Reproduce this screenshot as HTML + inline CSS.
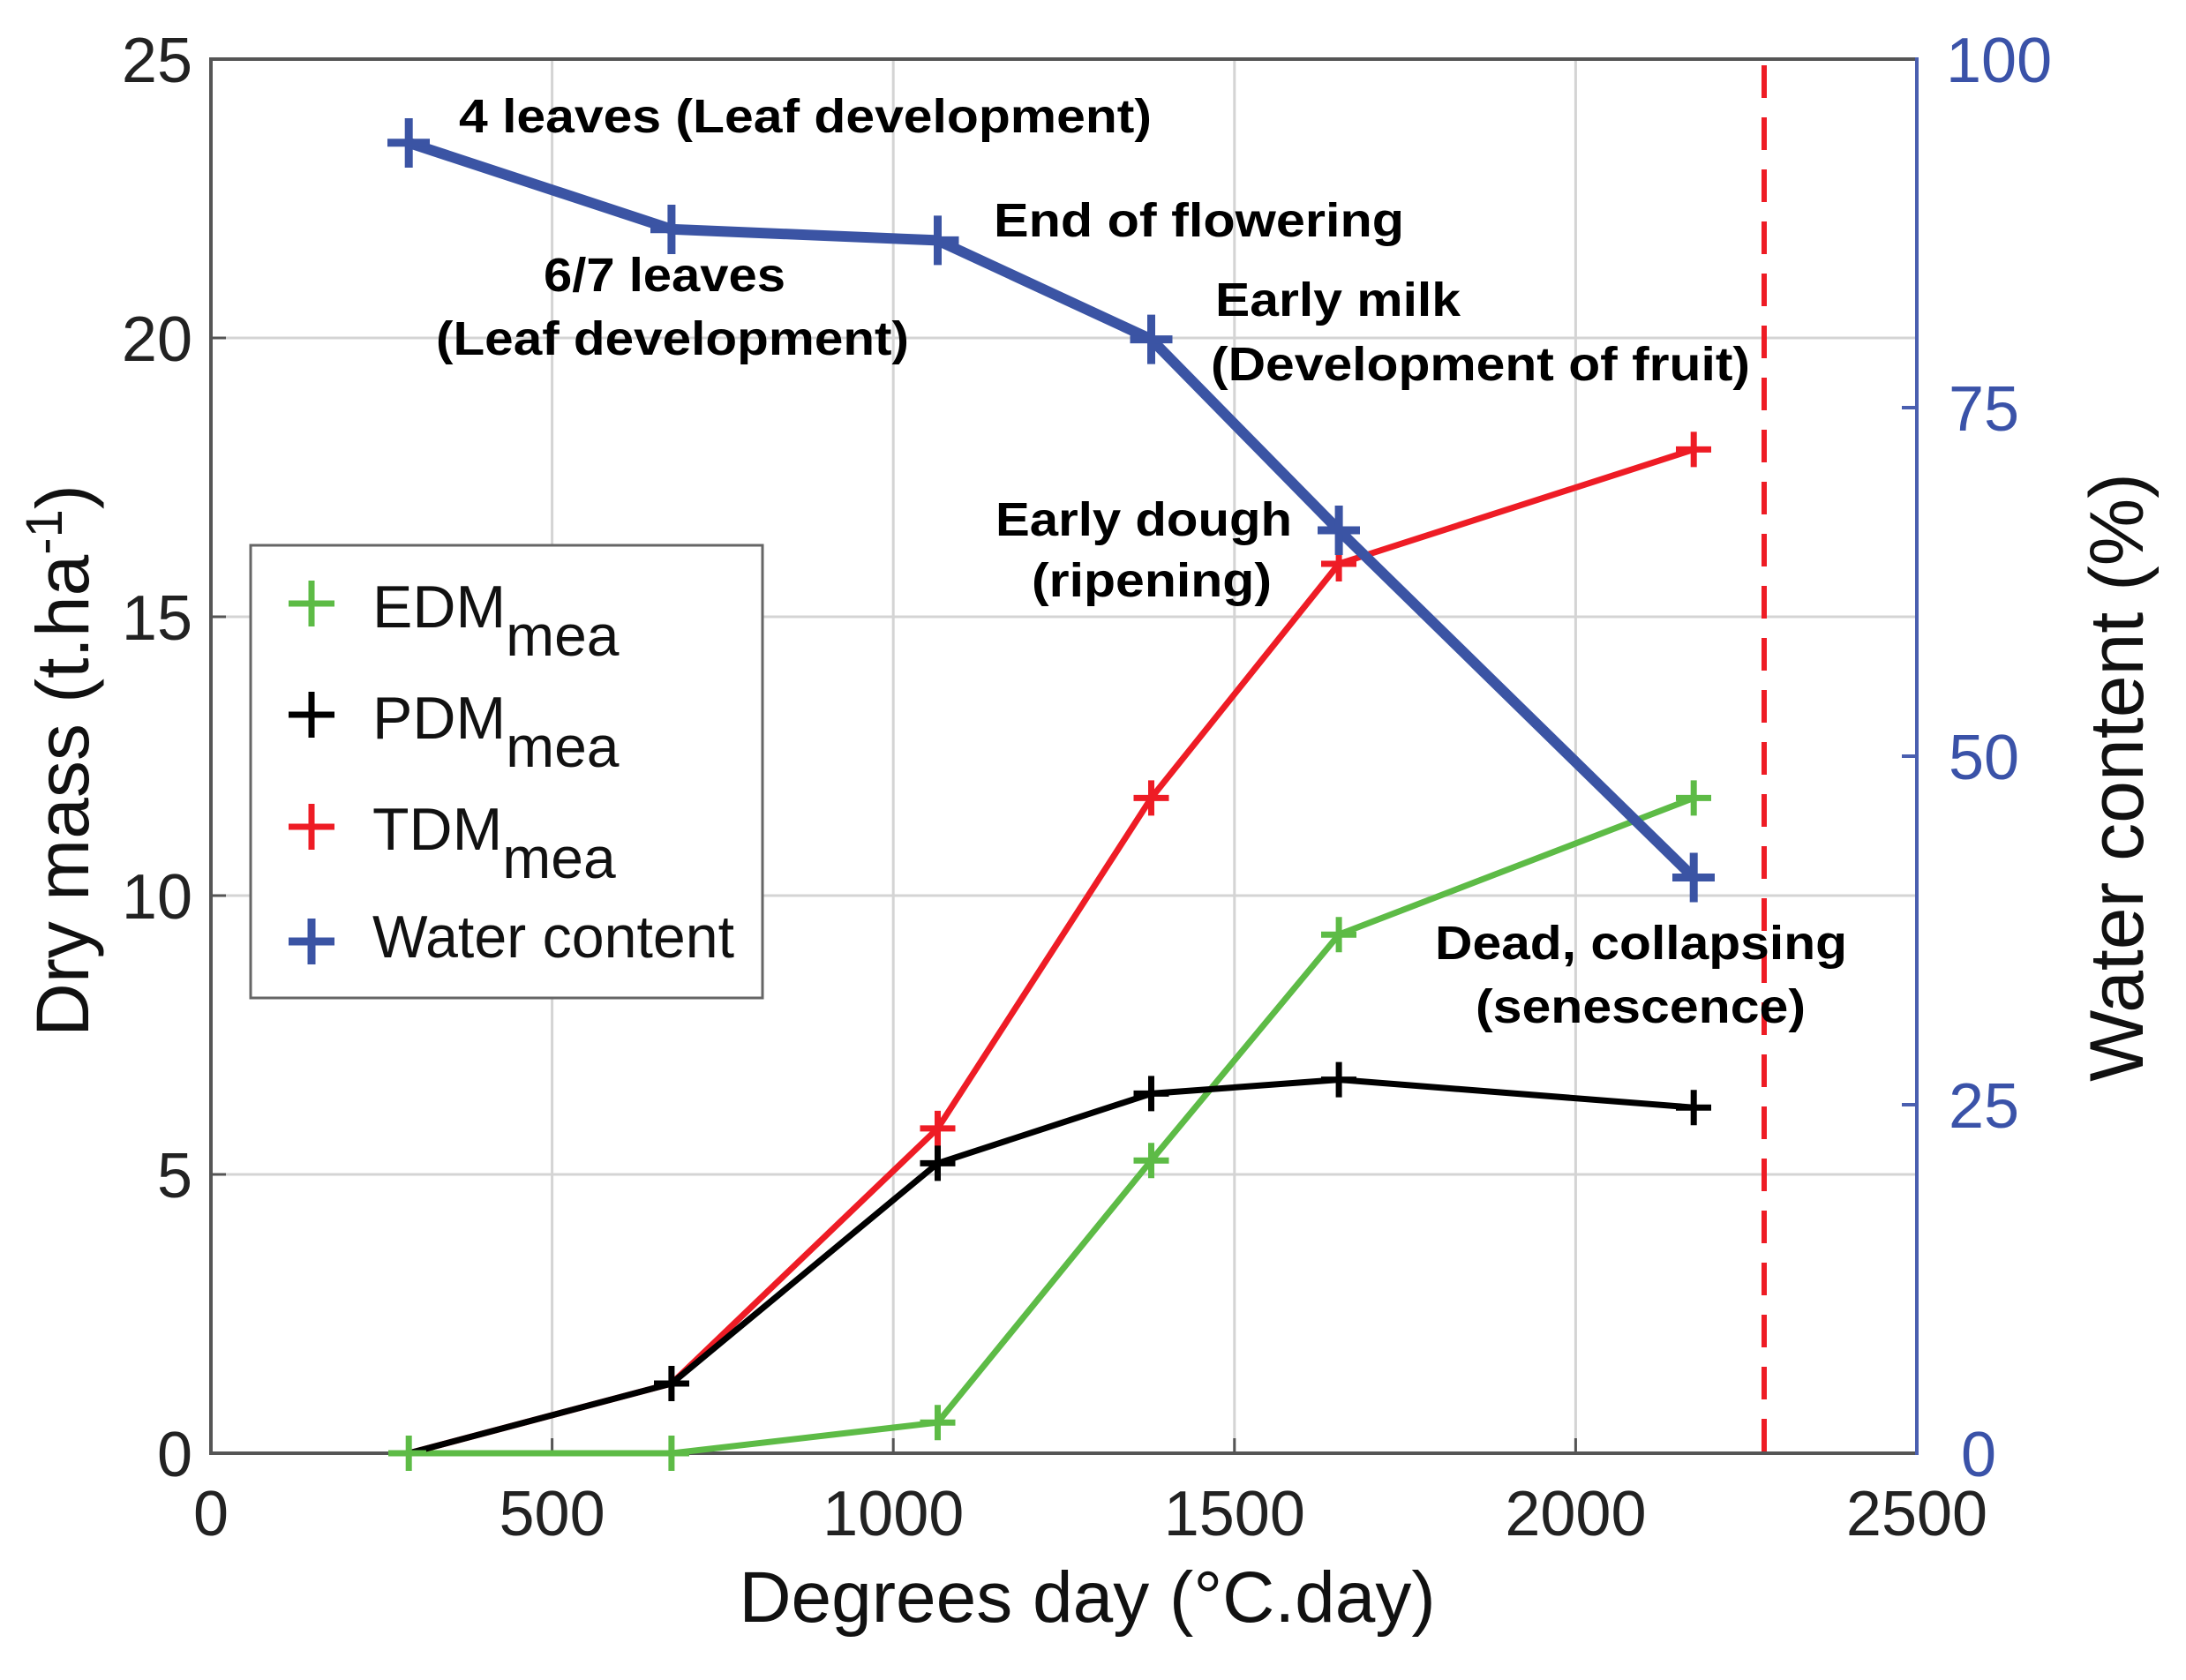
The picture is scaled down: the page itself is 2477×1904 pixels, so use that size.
<!DOCTYPE html>
<html><head><meta charset="utf-8"><style>html,body{margin:0;padding:0;background:#fff}svg{display:block}</style></head>
<body>
<svg width="2477" height="1904" viewBox="0 0 2477 1904" xmlns="http://www.w3.org/2000/svg" font-family="Liberation Sans, Arial, sans-serif">
<rect width="2477" height="1904" fill="#fff"/>
<g stroke="#d4d4d4" stroke-width="3">
<line x1="625.6" y1="67" x2="625.6" y2="1647"/><line x1="1012.2" y1="67" x2="1012.2" y2="1647"/>
<line x1="1398.8" y1="67" x2="1398.8" y2="1647"/><line x1="1785.4" y1="67" x2="1785.4" y2="1647"/>
<line x1="239" y1="1331" x2="2172" y2="1331"/><line x1="239" y1="1015" x2="2172" y2="1015"/>
<line x1="239" y1="699" x2="2172" y2="699"/><line x1="239" y1="383" x2="2172" y2="383"/>
</g>
<g stroke="#555" stroke-width="4" fill="none">
<line x1="239" y1="67" x2="2172" y2="67"/><line x1="239" y1="1647" x2="2172" y2="1647"/><line x1="239" y1="65" x2="239" y2="1649"/>
</g>
<g stroke="#555" stroke-width="3">
<line x1="239" y1="1331" x2="256" y2="1331"/><line x1="239" y1="1015" x2="256" y2="1015"/><line x1="239" y1="699" x2="256" y2="699"/><line x1="239" y1="383" x2="256" y2="383"/>
<line x1="625.6" y1="1647" x2="625.6" y2="1630"/><line x1="1012.2" y1="1647" x2="1012.2" y2="1630"/><line x1="1398.8" y1="1647" x2="1398.8" y2="1630"/><line x1="1785.4" y1="1647" x2="1785.4" y2="1630"/>
</g>
<g stroke="#4a5fb0" stroke-width="4">
<line x1="2172" y1="65" x2="2172" y2="1649"/>
<line x1="2155" y1="1252" x2="2172" y2="1252"/><line x1="2155" y1="857" x2="2172" y2="857"/><line x1="2155" y1="462" x2="2172" y2="462"/>
</g>
<line x1="1999" y1="74" x2="1999" y2="1647" stroke="#ee1c25" stroke-width="6" stroke-dasharray="37 22"/>
<g font-size="72" fill="#222" text-anchor="end">
<text x="218" y="1673">0</text><text x="218" y="1357">5</text><text x="218" y="1041">10</text><text x="218" y="725">15</text><text x="218" y="409">20</text><text x="218" y="93">25</text>
</g>
<g font-size="72" fill="#222" text-anchor="middle">
<text x="239" y="1740">0</text><text x="625.6" y="1740">500</text><text x="1012.2" y="1740">1000</text><text x="1398.8" y="1740">1500</text><text x="1785.4" y="1740">2000</text><text x="2172" y="1740">2500</text>
</g>
<g font-size="72" fill="#3a52a8" text-anchor="start">
<text x="2222" y="1673">0</text><text x="2208" y="1278">25</text><text x="2208" y="883">50</text><text x="2208" y="488">75</text><text x="2205" y="93">100</text>
</g>
<text x="1232" y="1838" font-size="82" fill="#111" text-anchor="middle">Degrees day (°C.day)</text>
<text transform="translate(100,862) rotate(-90)" font-size="84" fill="#111" text-anchor="middle">Dry mass (t.ha<tspan dy="-30" font-size="58">-1</tspan><tspan dy="30">)</tspan></text>
<text transform="translate(2428,881) rotate(-90)" font-size="86" fill="#111" text-anchor="middle">Water content (%)</text>
<g fill="none" stroke-linejoin="round">
<polyline stroke="#5dbb46" stroke-width="7" points="440,1647 463.2,1647 760.9,1647 1062.5,1612.2 1304.5,1315.2 1517.1,1059.2 1919.2,904.4"/>
<polyline stroke="#ee1c25" stroke-width="7" points="463.2,1647 760.9,1568 1062.5,1278.9 1304.5,904.4 1517.1,639 1919.2,509.4"/>
<polyline stroke="#000" stroke-width="7" points="463.2,1647 760.9,1568 1062.5,1318.4 1304.5,1239.4 1517.1,1223.6 1919.2,1255.2"/>
<polyline stroke="#3b54a4" stroke-width="12" points="463.2,161.8 760.9,259.8 1062.5,272.4 1304.5,384.6 1517.1,601 1919.2,994.5"/>
</g>
<g stroke="#5dbb46" stroke-width="7">
<path d="M443 1647h40M463.2 1627v40 M741 1647h40M760.9 1627v40 M1042.5 1612.2h40M1062.5 1592.2v40 M1284.5 1315.2h40M1304.5 1295.2v40 M1497 1059.2h40M1517.1 1039.2v40 M1899 904.4h40M1919.2 884.4v40"/>
</g>
<g stroke="#ee1c25" stroke-width="7">
<path d="M1042.5 1278.9h40M1062.5 1258.9v40 M1284.5 904.4h40M1304.5 884.4v40 M1497 639h40M1517.1 619v40 M1899 509.4h40M1919.2 489.4v40"/>
</g>
<g stroke="#000" stroke-width="7">
<path d="M741 1568h40M760.9 1548v40 M1042.5 1318.4h40M1062.5 1298.4v40 M1284.5 1239.4h40M1304.5 1219.4v40 M1497 1223.6h40M1517.1 1203.6v40 M1899 1255.2h40M1919.2 1235.2v40"/>
</g>
<g stroke="#3b54a4" stroke-width="9">
<path d="M439 161.8h48M463.2 134v56 M737 259.8h48M760.9 232v56 M1038.5 272.4h48M1062.5 244.4v56 M1280.5 384.6h48M1304.5 356.6v56 M1493 601h48M1517.1 573v56 M1895 994.5h48M1919.2 966.5v56"/>
</g>
<g font-size="54" font-weight="bold" fill="#000">
<text x="520" y="150" textLength="785" lengthAdjust="spacingAndGlyphs">4 leaves (Leaf development)</text>
<text x="616" y="330" textLength="274" lengthAdjust="spacingAndGlyphs">6/7 leaves</text>
<text x="494" y="402" textLength="536" lengthAdjust="spacingAndGlyphs">(Leaf development)</text>
<text x="1126" y="268" textLength="465" lengthAdjust="spacingAndGlyphs">End of flowering</text>
<text x="1377" y="358" textLength="278" lengthAdjust="spacingAndGlyphs">Early milk</text>
<text x="1372" y="431" textLength="611" lengthAdjust="spacingAndGlyphs">(Development of fruit)</text>
<text x="1128" y="607" textLength="336" lengthAdjust="spacingAndGlyphs">Early dough</text>
<text x="1169" y="676" textLength="272" lengthAdjust="spacingAndGlyphs">(ripening)</text>
<text x="1626" y="1087" textLength="467" lengthAdjust="spacingAndGlyphs">Dead, collapsing</text>
<text x="1672" y="1159" textLength="374" lengthAdjust="spacingAndGlyphs">(senescence)</text>
</g>
<rect x="284" y="618" width="580" height="513" fill="#fff" stroke="#666" stroke-width="3"/>
<g stroke-width="7">
<path stroke="#5dbb46" d="M327 684h52M353 658v52"/>
<path stroke="#000" d="M327 810h52M353 784v52"/>
<path stroke="#ee1c25" d="M327 937h52M353 911v52"/>
<path stroke="#3b54a4" stroke-width="9" d="M327 1067h52M353 1041v52"/>
</g>
<g font-size="68" fill="#111">
<text x="422" y="711">EDM<tspan dy="32" font-size="66">mea</tspan></text>
<text x="422" y="837">PDM<tspan dy="32" font-size="66">mea</tspan></text>
<text x="422" y="963">TDM<tspan dy="32" font-size="66">mea</tspan></text>
<text x="422" y="1085" textLength="410" lengthAdjust="spacingAndGlyphs">Water content</text>
</g>
</svg>
</body></html>
